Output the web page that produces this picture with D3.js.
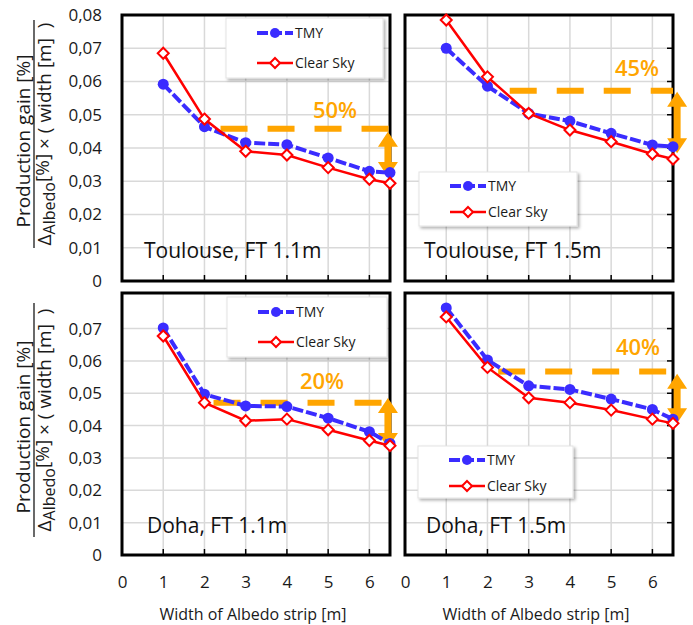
<!DOCTYPE html>
<html>
<head>
<meta charset="utf-8">
<script src="https://cdn.jsdelivr.net/npm/d3@7"></script>
<style>
  body { margin: 0; background: #fff; }
  svg { display: block; font-family: "Open Sans", sans-serif; }
</style>
</head>
<body>
<div id="chart"></div>
<script>
// ---- data ----
const widths = [1, 2, 3, 4, 5, 6, 6.5];
const panelNames = ["Toulouse, FT 1.1m", "Toulouse, FT 1.5m", "Doha, FT 1.1m", "Doha, FT 1.5m"];
const tmyValues = [
  [0.0592, 0.0464, 0.0416, 0.0410, 0.0370, 0.0330, 0.0326],
  [0.0700, 0.0586, 0.0504, 0.0481, 0.0444, 0.0409, 0.0404],
  [0.0702, 0.0497, 0.0461, 0.0459, 0.0423, 0.0381, 0.0345],
  [0.0764, 0.0603, 0.0523, 0.0512, 0.0482, 0.0450, 0.0420]
];
const clearSkyValues = [
  [0.0685, 0.0487, 0.0390, 0.0379, 0.0341, 0.0306, 0.0294],
  [0.0785, 0.0614, 0.0504, 0.0454, 0.0419, 0.0382, 0.0367],
  [0.0677, 0.0471, 0.0415, 0.0420, 0.0387, 0.0354, 0.0338],
  [0.0736, 0.0580, 0.0486, 0.0471, 0.0448, 0.0420, 0.0407]
];
const gainLabels = ["50%", "45%", "20%", "40%"];
const gainLevels = [0.0458, 0.0572, 0.0471, 0.0567];   // dashed reference level
const gainFrom = [2.39, 2.54, 2.22, 2.26];             // dashed line starts at this width
const arrowTop = [0.0449, 0.0569, 0.0485, 0.0560];
const arrowBottom = [0.0313, 0.0384, 0.0331, 0.0407];
const arrowAt = [6.45, 6.6, 6.45, 6.6];
const xTicks = [0, 1, 2, 3, 4, 5, 6];
const yTicksTop = [0, 0.01, 0.02, 0.03, 0.04, 0.05, 0.06, 0.07, 0.08];
const yTicksBottom = [0, 0.01, 0.02, 0.03, 0.04, 0.05, 0.06, 0.07];
const seriesNames = ["TMY", "Clear Sky"];

// ---- layout ----
const W = 693, H = 625;
const BLUE = "#3a2cff", RED = "#ff0000", ORANGE = "#ffa500", GRID = "#d9d9d9";

const panels = [
  { x: 122, y: 15, w: 268, h: 266, yMax: 0.08, yTicks: yTicksTop, left: true, bottom: false,
    legend: { x: 104, y: 3, w: 157, h: 60, rows: [18, 48], lx: 135 },
    name: { x: 22, y: 243 }, gain: { x: 213, y: 103 } },
  { x: 405, y: 15, w: 268, h: 266, yMax: 0.08, yTicks: yTicksTop, left: false, bottom: false,
    legend: { x: 14, y: 157, w: 158, h: 54, rows: [171, 197], lx: 45 },
    name: { x: 19, y: 243 }, gain: { x: 232, y: 61 } },
  { x: 122, y: 293, w: 268, h: 262, yMax: 0.081, yTicks: yTicksBottom, left: true, bottom: true,
    legend: { x: 105, y: 4, w: 160, h: 60, rows: [19, 49], lx: 136 },
    name: { x: 25, y: 240 }, gain: { x: 200, y: 96 } },
  { x: 405, y: 293, w: 268, h: 262, yMax: 0.081, yTicks: yTicksBottom, left: false, bottom: true,
    legend: { x: 13, y: 153, w: 155, h: 52, rows: [167, 193], lx: 44 },
    name: { x: 21, y: 240 }, gain: { x: 233, y: 62 } }
];

const svg = d3.select("#chart").append("svg")
  .attr("width", W).attr("height", H)
  .attr("viewBox", `0 0 ${W} ${H}`);

const defs = svg.append("defs");
const shadow = defs.append("filter").attr("id", "shadow")
  .attr("x", "-10%").attr("y", "-10%").attr("width", "130%").attr("height", "140%");
shadow.append("feDropShadow")
  .attr("dx", 2).attr("dy", 2).attr("stdDeviation", 1.5)
  .attr("flood-color", "#000").attr("flood-opacity", 0.3);

const diamond = (r) => `M0,${-r}L${r},0L0,${r}L${-r},0Z`;

function arrowPath(x, y1, y2) {
  const hw = 10, hl = 15, sw = 3.5;
  return `M${x},${y1}L${x + hw},${y1 + hl}L${x + sw},${y1 + hl}L${x + sw},${y2 - hl}` +
    `L${x + hw},${y2 - hl}L${x},${y2}L${x - hw},${y2 - hl}L${x - sw},${y2 - hl}` +
    `L${x - sw},${y1 + hl}L${x - hw},${y1 + hl}Z`;
}

panels.forEach((p, i) => {
  const x = d3.scaleLinear().domain([0, 6.5]).range([0, p.w]);
  const y = d3.scaleLinear().domain([0, p.yMax]).range([p.h, 0]);
  const g = svg.append("g").attr("transform", `translate(${p.x},${p.y})`);

  // gridlines
  g.append("g").selectAll("line.v").data(xTicks.slice(1)).join("line")
    .attr("x1", d => x(d)).attr("x2", d => x(d)).attr("y1", 0).attr("y2", p.h)
    .attr("stroke", GRID).attr("stroke-width", 1.5);
  g.append("g").selectAll("line.h").data(p.yTicks.slice(1)).join("line")
    .attr("x1", 0).attr("x2", p.w).attr("y1", d => y(d)).attr("y2", d => y(d))
    .attr("stroke", GRID).attr("stroke-width", 1.5);

  // inside tick marks
  g.append("g").selectAll("line").data(xTicks.slice(1)).join("line")
    .attr("x1", d => x(d)).attr("x2", d => x(d)).attr("y1", p.h).attr("y2", p.h - 6)
    .attr("stroke", "#000").attr("stroke-width", 1.5);
  if (!p.left) {
    g.append("g").selectAll("line").data(yTicksBottom.slice(1)).join("line")
      .attr("x1", p.w).attr("x2", p.w - 6).attr("y1", d => y(d)).attr("y2", d => y(d))
      .attr("stroke", "#000").attr("stroke-width", 1.5);
  }

  // frame
  g.append("rect").attr("width", p.w).attr("height", p.h)
    .attr("fill", "none").attr("stroke", "#000").attr("stroke-width", 3);

  // axes labels
  if (p.left) {
    const ya = g.append("g").call(d3.axisLeft(y).tickValues(p.yTicks).tickSize(0).tickPadding(20)
      .tickFormat(d => d === 0 ? "0" : d3.format(".2f")(d).replace(".", ",")));
    ya.select(".domain").remove();
    ya.selectAll("text").attr("font-size", 17).attr("fill", "#1a1a1a")
      .attr("font-family", "Open Sans, sans-serif");
  }
  if (p.bottom) {
    const xa = g.append("g").attr("transform", `translate(0,${p.h})`)
      .call(d3.axisBottom(x).tickValues(xTicks).tickSize(0).tickPadding(21).tickFormat(d3.format("d")));
    xa.select(".domain").remove();
    xa.selectAll("text").attr("font-size", 17).attr("fill", "#1a1a1a")
      .attr("font-family", "Open Sans, sans-serif");
    g.append("text").attr("x", p.w / 2 - 3).attr("y", p.h + 65)
      .attr("text-anchor", "middle").attr("font-size", 16).attr("fill", "#1a1a1a")
      .text("Width of Albedo strip [m]");
  }

  // legend
  const lg = g.append("g");
  lg.append("rect").attr("x", p.legend.x).attr("y", p.legend.y)
    .attr("width", p.legend.w).attr("height", p.legend.h)
    .attr("fill", "#fff").attr("stroke", "#e3e3e3").attr("filter", "url(#shadow)");
  seriesNames.forEach((s, k) => {
    const ry = p.legend.rows[k], lx = p.legend.lx;
    lg.append("line").attr("x1", lx).attr("x2", lx + 36).attr("y1", ry).attr("y2", ry)
      .attr("stroke", k === 0 ? BLUE : RED).attr("stroke-width", k === 0 ? 4 : 2.5)
      .attr("stroke-dasharray", k === 0 ? "11 3" : null);
    if (k === 0) {
      lg.append("circle").attr("cx", lx + 18).attr("cy", ry).attr("r", 5).attr("fill", BLUE);
    } else {
      lg.append("path").attr("d", diamond(5)).attr("transform", `translate(${lx + 18},${ry})`)
        .attr("fill", "#fff").attr("stroke", RED).attr("stroke-width", 2);
    }
    lg.append("text").attr("x", lx + 38).attr("y", ry).attr("dy", "0.35em")
      .attr("font-size", 14).attr("fill", "#1a1a1a").text(s);
  });

  // panel name
  g.append("text").attr("x", p.name.x).attr("y", p.name.y)
    .attr("font-size", 21).attr("fill", "#111").text(panelNames[i]);

  // gain annotation
  g.append("line").attr("x1", x(gainFrom[i])).attr("x2", p.w)
    .attr("y1", y(gainLevels[i])).attr("y2", y(gainLevels[i]))
    .attr("stroke", ORANGE).attr("stroke-width", 6).attr("stroke-dasharray", "27 20");
  g.append("path").attr("d", arrowPath(x(arrowAt[i]), y(arrowTop[i]), y(arrowBottom[i])))
    .attr("fill", ORANGE);
  g.append("text").attr("x", p.gain.x).attr("y", p.gain.y)
    .attr("text-anchor", "middle").attr("font-size", 22).attr("font-weight", 600)
    .attr("fill", ORANGE).text(gainLabels[i]);

  // series
  const line = d3.line().x((d, k) => x(widths[k])).y(d => y(d));
  g.append("path").datum(tmyValues[i]).attr("d", line)
    .attr("fill", "none").attr("stroke", BLUE).attr("stroke-width", 4)
    .attr("stroke-dasharray", "11 3");
  g.append("g").selectAll("circle").data(tmyValues[i]).join("circle")
    .attr("cx", (d, k) => x(widths[k])).attr("cy", d => y(d)).attr("r", 5.5).attr("fill", BLUE);
  g.append("path").datum(clearSkyValues[i]).attr("d", line)
    .attr("fill", "none").attr("stroke", RED).attr("stroke-width", 2.5);
  g.append("g").selectAll("path").data(clearSkyValues[i]).join("path")
    .attr("d", diamond(5.5))
    .attr("transform", (d, k) => `translate(${x(widths[k])},${y(d)})`)
    .attr("fill", "#fff").attr("stroke", RED).attr("stroke-width", 2);
});

// y axis title (fraction), one per row
[{ top: 20, bottom: 248 }, { top: 303, bottom: 537 }].forEach(r => {
  const cy = (r.top + r.bottom) / 2;
  const t = svg.append("g").attr("transform", `translate(0,${cy}) rotate(-90)`);
  t.append("text").attr("x", -7).attr("y", 30).attr("text-anchor", "middle")
    .attr("font-size", 19).attr("fill", "#1a1a1a").text("Production gain [%]");
  t.append("line").attr("x1", -(r.bottom - r.top) / 2).attr("x2", (r.bottom - r.top) / 2)
    .attr("y1", 34).attr("y2", 34).attr("stroke", "#1a1a1a").attr("stroke-width", 1.3);
  const den = t.append("text").attr("x", 0).attr("y", 51).attr("text-anchor", "middle")
    .attr("font-size", 19).attr("fill", "#1a1a1a");
  den.append("tspan").text("\u0394");
  den.append("tspan").attr("font-size", 16).attr("dy", 4).text("Albedo");
  den.append("tspan").attr("dy", -6).text("[%]");
  den.append("tspan").attr("dy", 2).text("\u00a0\u00d7\u00a0(\u00a0width [m]\u00a0\u00a0)");
});
</script>
</body>
</html>
